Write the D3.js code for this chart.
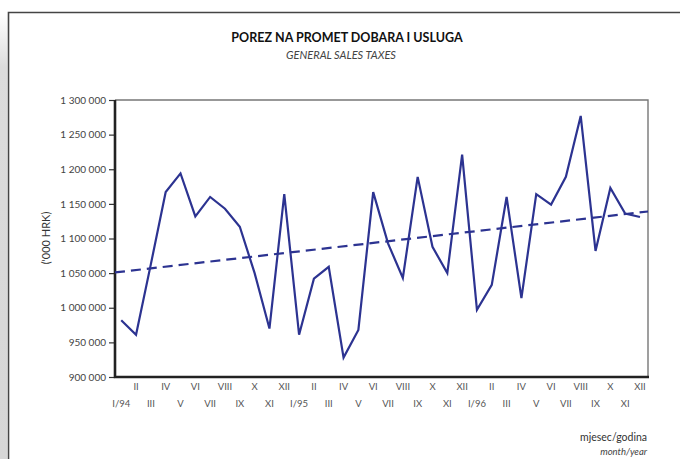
<!DOCTYPE html>
<html>
<head>
<meta charset="utf-8">
<script src="https://cdn.jsdelivr.net/npm/d3@7"></script>
<style>
  body { margin: 0; background: #fff; }
  svg { display: block; font-family: Lato, "Open Sans", sans-serif; }
</style>
</head>
<body>
<script>
// mjesecni prihodi od poreza na promet, '000 HRK, I/94 - XII/96
const months = ["I/94","II","III","IV","V","VI","VII","VIII","IX","X","XI","XII",
                "I/95","II","III","IV","V","VI","VII","VIII","IX","X","XI","XII",
                "I/96","II","III","IV","V","VI","VII","VIII","IX","X","XI","XII"];
const values = [982000, 961000, 1063000, 1167000, 1194000, 1132000, 1160000, 1143000, 1117000, 1050000, 970000, 1164000,
                961000, 1042000, 1059000, 928000, 968000, 1167000, 1093000, 1043000, 1189000, 1088000, 1050000, 1221000,
                997000, 1033000, 1160000, 1014000, 1164000, 1149000, 1189000, 1277000, 1082000, 1173000, 1136000, 1131000];
const trendEnds = [1051000, 1139000];   // trend na lijevom i desnom rubu
const yTicks = [900000, 950000, 1000000, 1050000, 1100000, 1150000, 1200000, 1250000, 1300000];

const W = 680, H = 459;
const pL = 115, pR = 648, pT = 100, pB = 377;
const blue = "#2c3391";

const svg = d3.select("body").append("svg").attr("width", W).attr("height", H);

// okvir stranice
const grad = svg.append("defs").append("linearGradient").attr("id", "sh")
  .attr("x1", 0).attr("x2", 0).attr("y1", 0).attr("y2", 1);
grad.append("stop").attr("offset", 0).attr("stop-color", "#fff");
grad.append("stop").attr("offset", 0.12).attr("stop-color", "#dcdcdc");
grad.append("stop").attr("offset", 1).attr("stop-color", "#d6d6d6");
svg.append("rect").attr("x", 0).attr("y", 14).attr("width", 7).attr("height", H - 14).attr("fill", "url(#sh)");
svg.append("path").attr("d", `M8.5,${H}V12.5H${W}`).attr("fill", "none").attr("stroke", "#444").attr("stroke-width", 1.6);

// naslovi
svg.append("text").attr("x", 347).attr("y", 42).attr("text-anchor", "middle")
  .attr("font-size", 12.5).attr("font-weight", "bold").attr("fill", "#111")
  .text("POREZ NA PROMET DOBARA I USLUGA");
svg.append("text").attr("x", 341).attr("y", 59).attr("text-anchor", "middle")
  .attr("font-size", 11).attr("font-style", "italic").attr("fill", "#444")
  .text("GENERAL SALES TAXES");

const x = d3.scaleLinear().domain([-0.42, 35.54]).range([pL, pR]);
const y = d3.scaleLinear().domain([900000, 1300000]).range([pB, pT]);

// gornji i desni rub
svg.append("path").attr("d", `M${pL},${pT}H${pR}V${pB}`)
  .attr("fill", "none").attr("stroke", "#777").attr("stroke-width", 1.4);

// y os
const fmt = d => d3.format(",")(d).replace(/,/g, " ");
const yAxis = svg.append("g").attr("transform", `translate(${pL},0)`)
  .call(d3.axisLeft(y).tickValues(yTicks).tickFormat(fmt).tickSize(6).tickPadding(3));
yAxis.select(".domain").remove();
yAxis.selectAll("line").attr("stroke", "#333").attr("stroke-width", 1.2);
yAxis.selectAll("text").attr("font-family", "Lato, sans-serif").attr("font-size", 10).attr("fill", "#444");

svg.append("text").attr("transform", "translate(50,238) rotate(-90)").attr("text-anchor", "middle")
  .attr("font-size", 11).attr("fill", "#333").text("('000 HRK)");

// x oznake u dva reda
svg.append("g").selectAll("text").data(months).join("text")
  .attr("x", (d, i) => x(i))
  .attr("y", (d, i) => i % 2 ? 390 : 407)
  .attr("text-anchor", "middle").attr("font-size", 9.5).attr("fill", "#555")
  .text(d => d);

// lijevi i donji rub (debeli)
svg.append("path").attr("d", `M${pL},${pT}V${pB}H${pR + 1}`)
  .attr("fill", "none").attr("stroke", "#222").attr("stroke-width", 2.6);

// trend
svg.append("line")
  .attr("x1", x(-0.42)).attr("y1", y(trendEnds[0]))
  .attr("x2", x(35.54)).attr("y2", y(trendEnds[1]))
  .attr("stroke", blue).attr("stroke-width", 2.2).attr("stroke-dasharray", "10,6");

// serija
const line = d3.line().x((d, i) => x(i)).y(d => y(d));
svg.append("path").datum(values).attr("d", line)
  .attr("fill", "none").attr("stroke", blue).attr("stroke-width", 2.2).attr("stroke-linejoin", "miter");

svg.append("text").attr("x", 647).attr("y", 441).attr("text-anchor", "end")
  .attr("font-size", 10.5).attr("fill", "#333").text("mjesec/godina");
svg.append("text").attr("x", 647).attr("y", 455).attr("text-anchor", "end")
  .attr("font-size", 9.5).attr("font-style", "italic").attr("fill", "#444").text("month/year");
</script>
</body>
</html>
